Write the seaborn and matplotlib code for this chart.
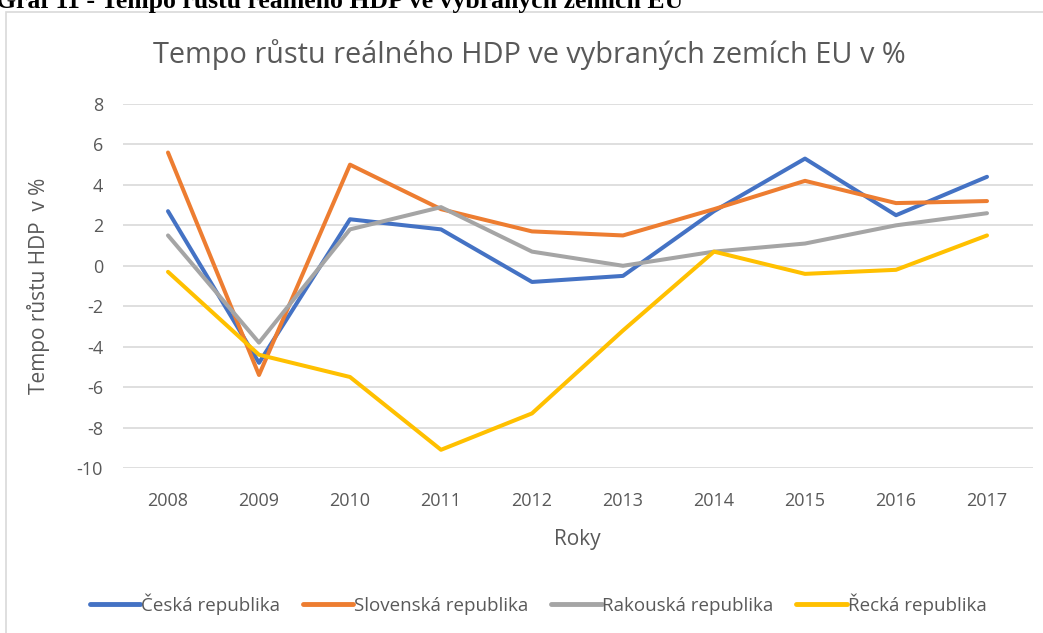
import matplotlib
matplotlib.use("Agg")
import matplotlib.pyplot as plt
import seaborn as sns
import pandas as pd
from matplotlib.patches import Rectangle
from matplotlib.lines import Line2D

years = [2008, 2009, 2010, 2011, 2012, 2013, 2014, 2015, 2016, 2017]
cz = [2.7, -4.8, 2.3, 1.8, -0.8, -0.5, 2.7, 5.3, 2.5, 4.4]
sk = [5.6, -5.4, 5.0, 2.8, 1.7, 1.5, 2.8, 4.2, 3.1, 3.2]
at = [1.5, -3.8, 1.8, 2.9, 0.7, 0.0, 0.7, 1.1, 2.0, 2.6]
gr = [-0.3, -4.4, -5.5, -9.1, -7.3, -3.2, 0.7, -0.4, -0.2, 1.5]
series_names = ["Česká republika", "Slovenská republika", "Rakouská republika", "Řecká republika"]
colors = ["#4472C4", "#ED7D31", "#A5A5A5", "#FFC000"]
yticks = [8, 6, 4, 2, 0, -2, -4, -6, -8, -10]

title = "Tempo růstu reálného HDP ve vybraných zemích EU v %"
caption = "Graf 11 - Tempo růstu reálného HDP ve vybraných zemích EU"
xlabel = "Roky"
ylabel = "Tempo růstu HDP  v %"

rows = []
for name, vals in zip(series_names, [cz, sk, at, gr]):
    for y, v in zip(years, vals):
        rows.append({"Rok": y, "Hodnota": v, "Země": name})
df = pd.DataFrame(rows)

sns.set_theme(style="white")
plt.rcParams["font.family"] = ["Open Sans", "DejaVu Sans"]
plt.rcParams["axes.unicode_minus"] = False
txt = "#595959"

W, H = 1043, 633
fig = plt.figure(figsize=(W / 100, H / 100), dpi=100)
ax = fig.add_axes([122.5 / W, 1 - 468 / H, 910 / W, 364 / H])

# chart border
fig.patches.append(Rectangle((6 / W, -0.1), 1.2, 1 - 12 / H + 0.1, transform=fig.transFigure,
                             fill=False, edgecolor="#d9d9d9", linewidth=1.2))

fig.text(-4 / W, 1 - 8 / H, caption, fontsize=18.5, fontweight="bold",
         family=["Liberation Serif", "DejaVu Serif"], color="black", va="baseline", ha="left")

sns.lineplot(data=df, x="Rok", y="Hodnota", hue="Země", palette=colors,
             linewidth=2.9, ax=ax, legend=False, sort=False)

ax.set_xlim(2007.5, 2017.5)
ax.set_ylim(-10, 8)
ax.set_yticks(yticks)
ax.set_xticks(years)
ax.set_xticklabels([str(y) for y in years])
ax.yaxis.grid(True, color="#d9d9d9", linewidth=1.2)
ax.set_axisbelow(True)
for s in ax.spines.values():
    s.set_visible(False)
ax.tick_params(axis="both", length=0, labelsize=13, colors=txt)
ax.tick_params(axis="y", pad=14)
ax.tick_params(axis="x", pad=17)

ax.set_xlabel(xlabel, fontsize=15, color=txt, labelpad=14)
ax.set_ylabel(ylabel, fontsize=15, color=txt, labelpad=19)

fig.text(529 / W, 1 - 55 / H, title, fontsize=20.8, color=txt,
         ha="center", va="center")

handles = [Line2D([0], [0], color=c, linewidth=3.5) for c in colors]
fig.legend(handles, series_names, loc="center", bbox_to_anchor=(538 / W, 1 - 604 / H),
           ncol=4, frameon=False, fontsize=13.5, labelcolor=txt, handlelength=2.7,
           handletextpad=0.05, columnspacing=1.2)

fig.savefig("out.png", dpi=100)
